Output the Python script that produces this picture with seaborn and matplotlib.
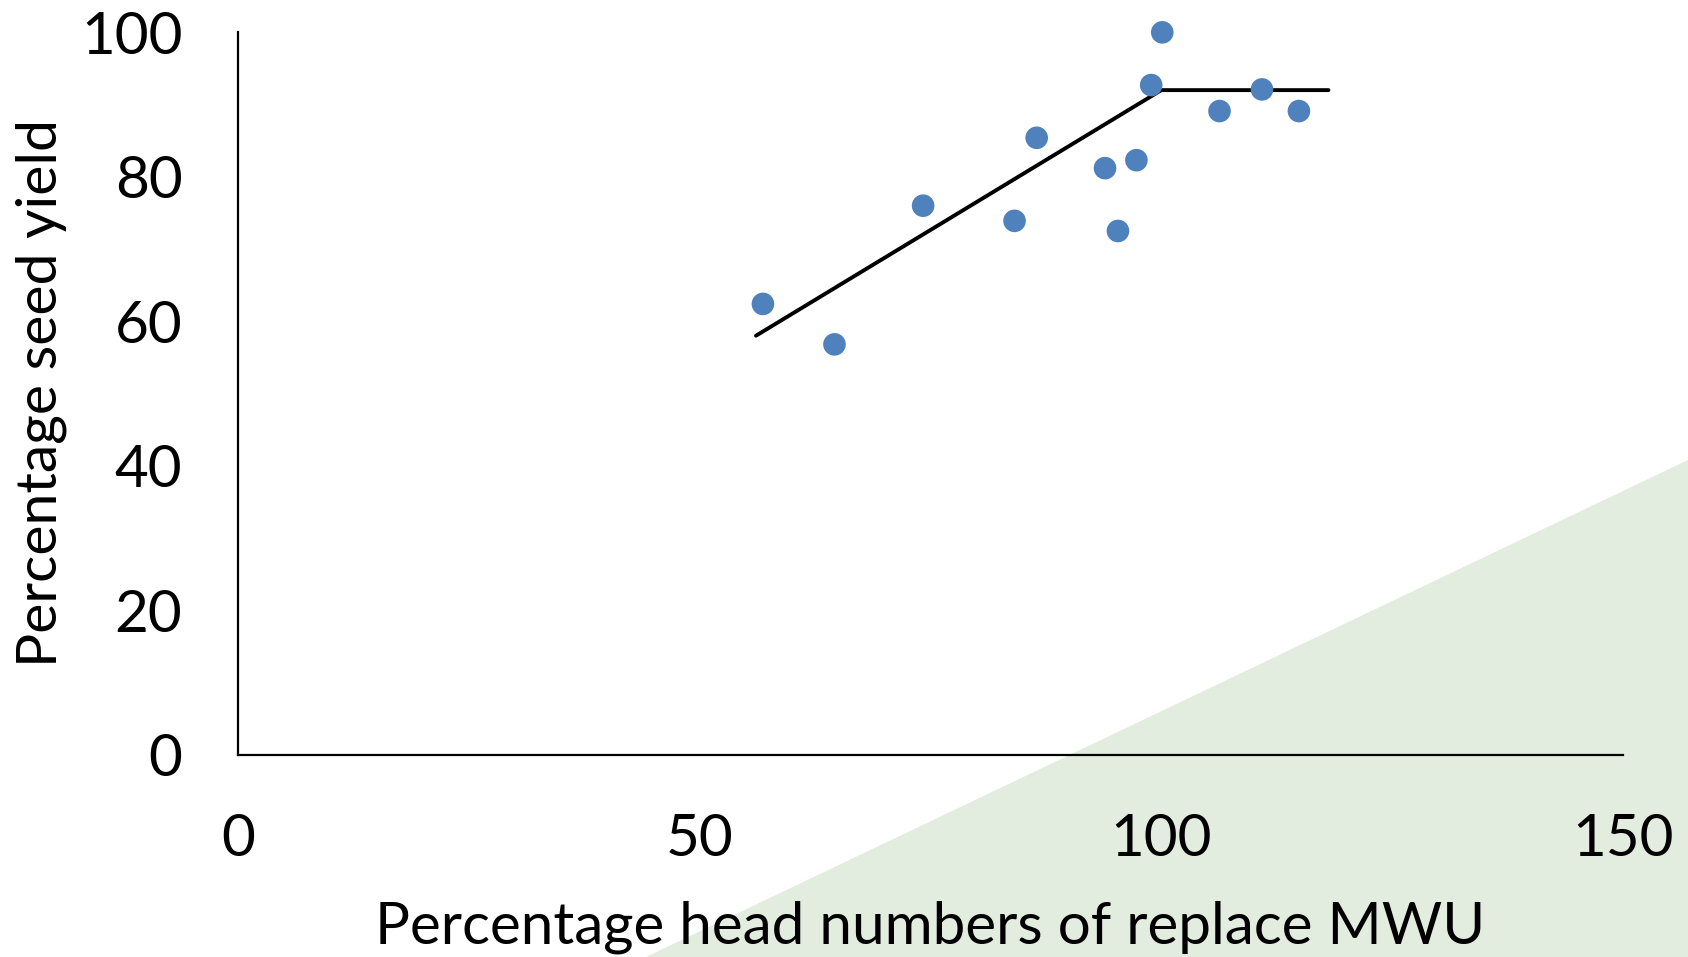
import matplotlib
matplotlib.use("Agg")
import matplotlib.pyplot as plt
from matplotlib.patches import Polygon
import seaborn as sns
import pandas as pd

# Observed plots: relative head number vs relative seed yield
head_pct = [56.85, 64.6, 74.2, 84.1, 86.5, 93.9, 95.3, 97.3, 98.9, 100.1, 106.3, 110.9, 114.9]
yield_pct = [62.4, 56.8, 76.0, 73.9, 85.4, 81.2, 72.5, 82.3, 92.7, 100.0, 89.1, 92.1, 89.1]

# Linear-plateau fit: rising segment, breakpoint, plateau
fit_x = [56.1, 100.0, 118.1]
fit_y = [58.0, 92.0, 92.0]

x_ticks = [0, 50, 100, 150]
y_ticks = [0, 20, 40, 60, 80, 100]

sns.set_theme(style="white")
plt.rcParams["font.family"] = ["Lato", "DejaVu Sans"]

fig = plt.figure(figsize=(16.88, 9.57), dpi=100)
fig.patch.set_facecolor("white")

# Pale green wedge in the lower-right corner of the canvas, behind everything
wedge = Polygon([(646 / 1688, 0.0), (1.0, 0.0), (1.0, 1 - 460 / 957)],
                closed=True, transform=fig.transFigure,
                facecolor="#e2ecdf", edgecolor="none", zorder=-10)
fig.patches.append(wedge)

ax = fig.add_axes([0.141, 0.2115, 0.8205, 0.7547])
ax.set_zorder(1)
ax.patch.set_alpha(0)

pts = pd.DataFrame({"head": head_pct, "yield": yield_pct})
fit = pd.DataFrame({"head": fit_x, "yield": fit_y})

sns.lineplot(data=fit, x="head", y="yield", sort=False, estimator=None,
             color="black", linewidth=2.8, ax=ax, zorder=2)
sns.scatterplot(data=pts, x="head", y="yield", color="#4f81bd",
                s=265, edgecolor="none", ax=ax, zorder=3, clip_on=False)

ax.set_xlim(0, 150)
ax.set_ylim(0, 100)
ax.set_xticks(x_ticks)
ax.set_yticks(y_ticks)

for side in ("top", "right"):
    ax.spines[side].set_visible(False)
for side in ("left", "bottom"):
    ax.spines[side].set_color("black")
    ax.spines[side].set_linewidth(1.6)

ax.tick_params(axis="both", which="major", direction="out", length=14,
               width=1.2, color="black", labelsize=42, labelcolor="black")
ax.tick_params(axis="x", pad=28)
ax.tick_params(axis="y", pad=26)

ax.set_xlabel("Percentage head numbers of replace MWU", fontsize=42,
              color="black", labelpad=25)
ax.set_ylabel("Percentage seed yield", fontsize=41, color="black", labelpad=10)

fig.savefig("out.png", dpi=100, facecolor=fig.get_facecolor())
